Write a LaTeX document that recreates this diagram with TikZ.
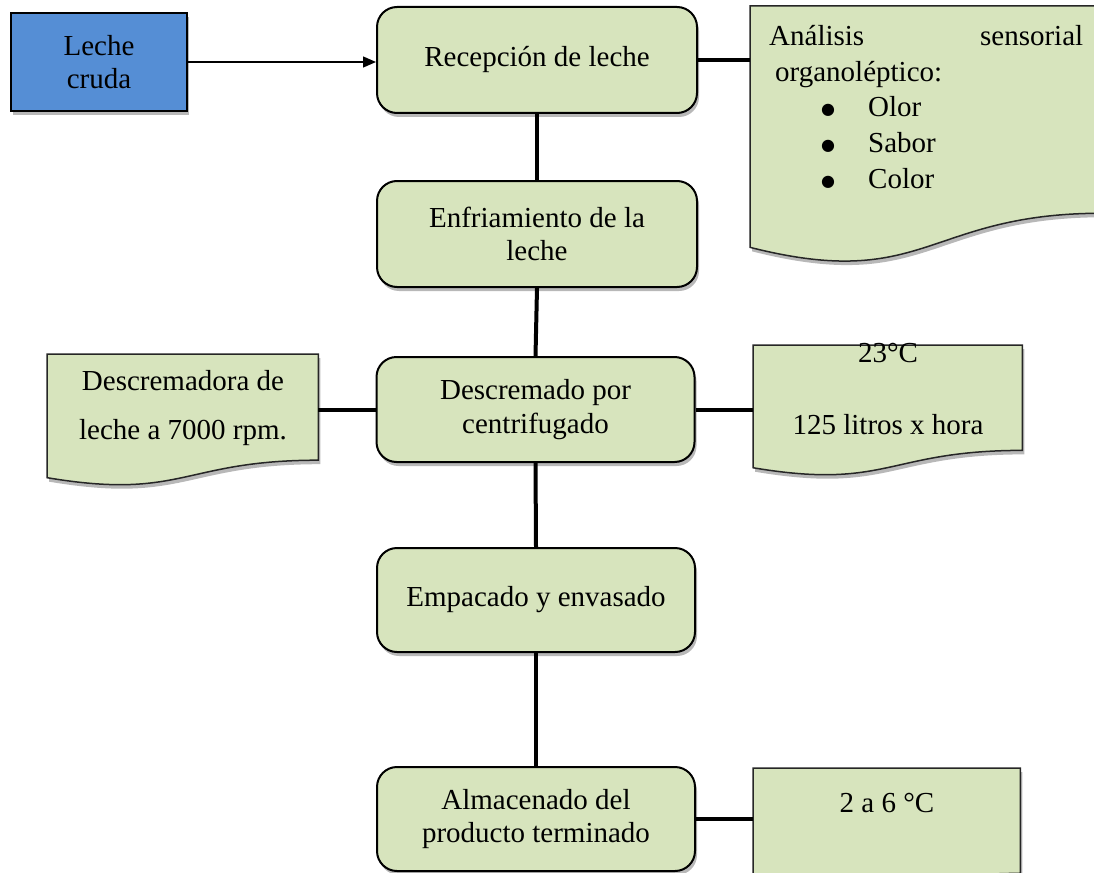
\documentclass[tikz,border=0pt]{standalone}
\usepackage{fontspec}
\setmainfont{Liberation Serif}
\newfontfamily\symbolfont{DejaVu Sans}
\usetikzlibrary{calc,shadows,arrows.meta}

\definecolor{procgreen}{HTML}{D7E4BD}
\definecolor{rawblue}{HTML}{558ED5}

\tikzset{
  x=1pt, y=-1pt,
  txt/.style={font=\fontsize{29}{33.4}\selectfont, inner sep=0pt, align=center},
  softshadow/.style={drop shadow={shadow xshift=2pt, shadow yshift=-4pt, opacity=0.28, fill=black}},
  stepbox/.style={txt, draw=black, line width=2pt, rounded corners=20pt,
    fill=procgreen, minimum width=318pt, minimum height=105pt, softshadow},
  rawbox/.style={txt, draw=black, line width=2pt, fill=rawblue,
    minimum width=176pt, minimum height=98pt, softshadow},
  docframe/.style={inner sep=0pt, anchor=north west},
  docfill/.style={draw=black!85, line width=1.5pt, fill=procgreen, softshadow},
  link/.style={line width=4pt, draw=black},
  feed/.style={line width=1.3pt, draw=black, -{Triangle[length=13pt,width=11pt]}},
}

% Flow-chart "document" outline drawn over the frame of a named node
\newcommand\docshape[1]{%
  \path[docfill] (#1.north west) -- (#1.north east)
    -- ($(#1.north east)!0.802!(#1.south east)$)
    .. controls ($(#1.north)!0.802!(#1.south)$) and ($(#1.north)!1.107!(#1.south)$)
    .. ($(#1.north west)!0.934!(#1.south west)$) -- cycle;}

% one bulleted entry of the sensory list
\newcommand\listentry[1]{\hspace*{54pt}\makebox[10pt]{\raisebox{2pt}{\symbolfont\fontsize{16}{16}\selectfont ●}}\hspace*{35pt}#1}

\begin{document}
\begin{tikzpicture}
\useasboundingbox (0,0) rectangle (1094,872);

% frames of the note shapes
\node[docframe, minimum width=352pt, minimum height=258pt] (ana) at (750,6) {};
\node[docframe, minimum width=271pt, minimum height=132pt] (desk) at (47,354) {};
\node[docframe, minimum width=269pt, minimum height=131pt] (temp) at (753,345) {};
\node[docframe, minimum width=267pt, minimum height=131pt] (cold) at (753,768) {};
\docshape{ana}
\docshape{desk}
\docshape{temp}
\docshape{cold}

% process steps
\node[rawbox] (raw) at (99,62) {Leche\\cruda};
\node[stepbox, minimum width=320pt, minimum height=106pt] (rec) at (537,60) {Recepción de leche};
\node[stepbox, minimum width=320pt, minimum height=106pt] (enf) at (537,234) {Enfriamiento de la\\leche};
\node[stepbox] (des) at (535.5,409.5) {Descremado por\\centrifugado};
\node[stepbox, minimum height=104pt] (emp) at (536,600) {Empacado y envasado};
\node[stepbox, minimum height=104pt] (alm) at (536,819) {Almacenado del\\producto terminado};

% note texts
\node[txt, anchor=north west, text width=314pt, align=left,
      font=\fontsize{29}{35.8}\selectfont] (anatxt) at (769,25)
  {Análisis\hfill sensorial\\
   \hspace*{6pt}organoléptico:\\
   \listentry{Olor}\\
   \listentry{Sabor}\\
   \listentry{Color}};
\node[txt, font=\fontsize{29}{49}\selectfont] (desktxt) at (183,408) {Descremadora de\\leche a 7000 rpm.};
\node[txt, font=\fontsize{29}{72}\selectfont] (temptxt) at (888,389) {23°C\\125 litros x hora};
\node[txt] (coldtxt) at (887,803) {2 a 6 °C};

% connectors
\draw[feed] (raw.east) -- (raw.east -| rec.west);
\draw[link] (rec.south) -- (enf.north);
\draw[link] (enf.south) -- (des.north);
\draw[link] (des.south) -- (emp.north);
\draw[link] (emp.south) -- (alm.north);
\draw[link] (rec.east) -- (rec.east -| ana.west);
\draw[link] (des.west) -- (des.west -| desk.east);
\draw[link] (des.east) -- (des.east -| temp.west);
\draw[link] (alm.east) -- (alm.east -| cold.west);
\end{tikzpicture}
\end{document}
